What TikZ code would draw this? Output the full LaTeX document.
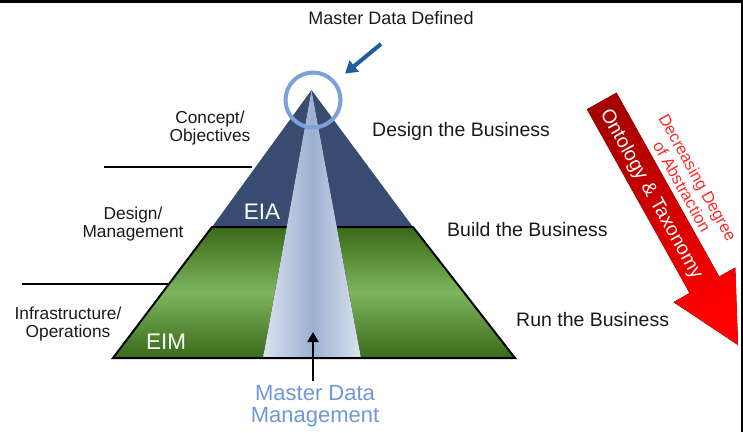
\documentclass[tikz,border=0pt]{standalone}
\usepackage{fontspec}
\setmainfont{Liberation Sans}
\usetikzlibrary{arrows.meta}

\definecolor{eiablue}{HTML}{374C70}
\definecolor{eimdark}{HTML}{3A6A17}
\definecolor{eimlight}{HTML}{7DB55F}
\definecolor{beamedge}{HTML}{D9E3EE}
\definecolor{beammid}{HTML}{9DB0D2}
\definecolor{mddblue}{HTML}{7BA0DA}
\definecolor{mddarrowblue}{HTML}{1D5C9E}
\definecolor{mdmtext}{HTML}{6F98D8}
\definecolor{ontodark}{HTML}{A80000}
\definecolor{ontored}{HTML}{FF0000}
\definecolor{abstred}{HTML}{FF2B2B}
\definecolor{labelgrey}{HTML}{1A1A1A}

\tikzset{
  tierlabel/.style={inner sep=0pt, text=labelgrey, align=center, font=\fontsize{17.3}{18}\selectfont},
  bizlabel/.style={inner sep=0pt, text=labelgrey, anchor=west, font=\fontsize{19.5}{22}\selectfont},
  layerlabel/.style={inner sep=0pt, text=white, font=\fontsize{22.5}{24}\selectfont},
  tierline/.style={line width=2pt, black},
}

\begin{document}
\begin{tikzpicture}[x=1pt,y=-1pt]
\useasboundingbox (0,0) rectangle (743,432);
\fill[black] (0,0) rectangle (743,3);
\fill[black] (741,0) rectangle (743,432);
\coordinate (apex) at (311.5,90);
\coordinate (eial) at (212,227);
\coordinate (eiar) at (413,227);
\coordinate (eiml) at (113,358);
\coordinate (eimr) at (515,358);
\coordinate (beaml) at (263,358);
\coordinate (beamr) at (361,358);
\fill[eiablue] (apex) -- (eiar) -- (eial) -- cycle;
\draw[line width=2pt, top color=eimdark, bottom color=eimdark, middle color=eimlight] (eial) -- (eiar) -- (eimr) -- (eiml) -- cycle;
\fill[left color=beamedge, right color=beamedge, middle color=beammid] (apex) -- (beamr) -- (beaml) -- cycle;
\draw[line width=2pt] (eiml) -- (eimr);
\draw[tierline] (104,167) -- (252,167);
\draw[tierline] (22,284) -- (169,284);
\node[tierlabel] (concept) at (210,128) {Concept/\\Objectives};
\node[tierlabel] (design) at (133,224) {Design/\\Management};
\node[tierlabel] (infra) at (68,324) {Infrastructure/\\Operations};
\node[bizlabel] (designbiz) at (372,131) {Design the Business};
\node[bizlabel] (buildbiz) at (447,230) {Build the Business};
\node[bizlabel] (runbiz) at (516,320) {Run the Business};
\node[layerlabel] (eia) at (262,212) {EIA};
\node[layerlabel] (eim) at (166,342) {EIM};
\node[inner sep=0pt, text=labelgrey, font=\fontsize{18}{20}\selectfont] (mddlabel) at (391,18) {Master Data Defined};
\node[circle, draw=mddblue, line width=4pt, minimum size=55pt, inner sep=0pt] (mdd) at (313,100) {};
\coordinate (mddtail) at (381,44);
\draw[-{Triangle[length=12pt,width=14pt]}, line width=4pt, mddarrowblue, shorten >=12pt] (mddtail) -- (mdd);
\node[inner sep=0pt, text=mdmtext, align=center, font=\fontsize{22}{22}\selectfont] (mdm) at (315,406) {Master Data\\Management};
\coordinate (mdmtip) at (313,332);
\draw[-{Triangle[length=10pt,width=11pt]}, line width=2.5pt, shorten <=4pt] (mdm.north -| mdmtip) -- (mdmtip);
\fill[top color=ontodark, bottom color=ontored, shading angle=30] (586.9,109.3) -- (616.5,92.7) -- (719.2,276.5) -- (735.3,267.5) -- (738,345) -- (673.5,302.1) -- (689.6,293.1) -- cycle;
\node[rotate=-60.8, inner sep=0pt, text=white, font=\fontsize{19.5}{22}\selectfont] (onto) at (651,194) {Ontology \& Taxonomy};
\node[rotate=-60.8, inner sep=0pt, text=abstred, align=center, font=\fontsize{16.5}{18}\selectfont] (abstr) at (690,182) {Decreasing Degree\\of Abstraction};
\end{tikzpicture}
\end{document}
